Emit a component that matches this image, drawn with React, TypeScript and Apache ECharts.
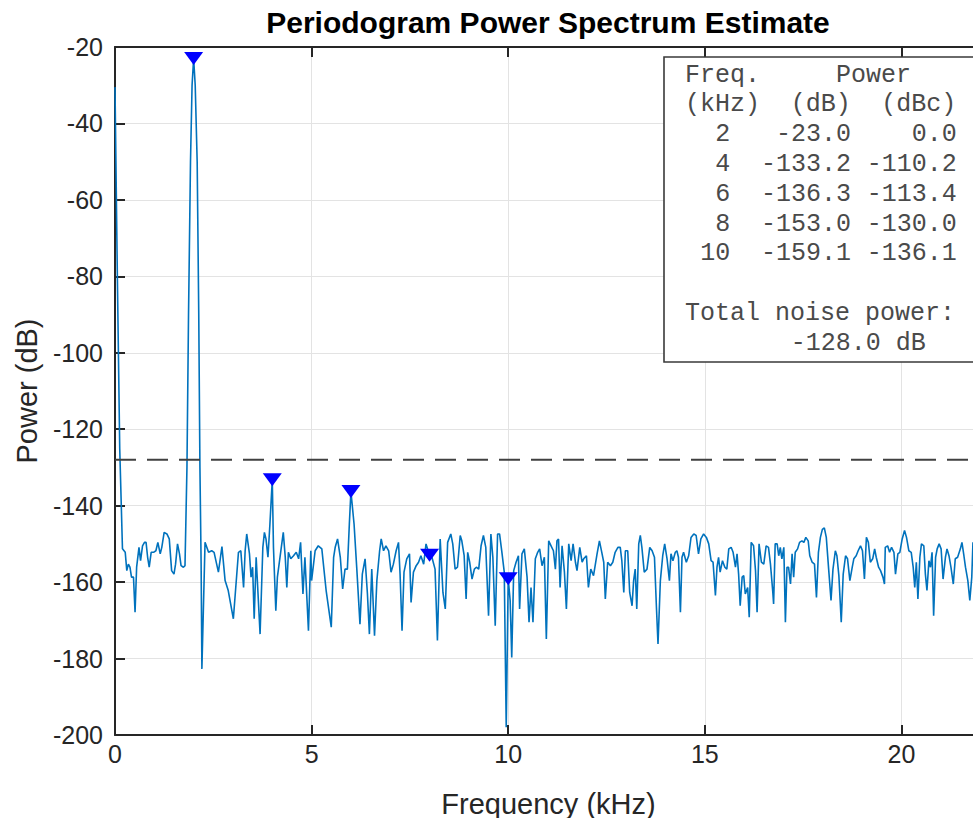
import React, { useEffect, useRef } from "react";
import * as echarts from "echarts";

// Periodogram estimate: [frequency (kHz), power (dB)]
const spectrum: [number, number][] = [
  [0, -30.5], [0.06, -80], [0.12, -125], [0.19, -151.3], [0.26, -152.2], [0.3, -157.0], [0.34, -155.3],
  [0.38, -156.1], [0.42, -158.7], [0.47, -158.7], [0.51, -167.9], [0.55, -156.1], [0.61, -150.9],
  [0.65, -154.4], [0.7, -150.5], [0.75, -149.6], [0.79, -149.6], [0.83, -153.5], [0.87, -156.1],
  [0.92, -152.2], [0.98, -152.2], [1.04, -151.8], [1.09, -149.6], [1.15, -152.6], [1.19, -150.9],
  [1.25, -147.0], [1.32, -147.4], [1.38, -148.7], [1.44, -157.0], [1.5, -157.9], [1.54, -155.3],
  [1.59, -150.0], [1.64, -152.6], [1.68, -155.7], [1.74, -156.1], [1.78, -155.7],
  [1.83, -130], [1.87, -90], [1.92, -50], [1.96, -30], [2.0, -23.0], [2.04, -30], [2.09, -50],
  [2.13, -90], [2.16, -130], [2.19, -155], [2.21, -182.7], [2.29, -149.6], [2.38, -152.2],
  [2.46, -151.8], [2.52, -152.2], [2.63, -157.4], [2.72, -150.7], [2.8, -159.6], [2.88, -162.2],
  [3.01, -169.6], [3.14, -152.2], [3.2, -151.8], [3.27, -161.4], [3.31, -151.8], [3.35, -147.4],
  [3.42, -152.6], [3.46, -158.7], [3.5, -156.1], [3.54, -169.6], [3.59, -153.5], [3.69, -173.6],
  [3.76, -150.9], [3.8, -147.0], [3.84, -148.7], [3.89, -153.5], [3.94, -144.8], [4.0, -133.2],
  [4.03, -150.9], [4.09, -167.5], [4.13, -158.7], [4.28, -147.0], [4.33, -153.5], [4.37, -161.4],
  [4.41, -152.2], [4.47, -153.9], [4.54, -153.1], [4.61, -152.2], [4.67, -153.9], [4.72, -149.6],
  [4.78, -163.1], [4.83, -153.5], [4.92, -172.7], [4.98, -151.8], [5.0, -159.6], [5.09, -151.8],
  [5.17, -150.5], [5.26, -151.3], [5.37, -162.2], [5.5, -171.8], [5.56, -153.5], [5.6, -150.9],
  [5.66, -148.7], [5.73, -153.5], [5.79, -161.8], [5.85, -156.6], [5.91, -156.6], [5.96, -144.8],
  [6.0, -136.3], [6.08, -144.8], [6.15, -156.6], [6.23, -171.0], [6.29, -157.9], [6.36, -153.9],
  [6.42, -163.1], [6.47, -173.6], [6.53, -156.6], [6.6, -174.0], [6.66, -159.6], [6.73, -151.8],
  [6.77, -148.7], [6.83, -151.8], [6.89, -150.5], [6.96, -151.8], [7.02, -157.4], [7.08, -155.3],
  [7.15, -151.8], [7.21, -149.6], [7.25, -157.9], [7.3, -172.7], [7.35, -157.4], [7.42, -153.9],
  [7.49, -152.6], [7.53, -165.3], [7.59, -157.4], [7.66, -155.7], [7.72, -154.8], [7.78, -153.1],
  [7.85, -155.3], [7.91, -150.0], [8.0, -153.0], [8.06, -153.5], [8.14, -156.6], [8.2, -175.3],
  [8.27, -148.7], [8.34, -162.7], [8.4, -167.0], [8.46, -149.6], [8.54, -147.4], [8.59, -150.0],
  [8.65, -156.6], [8.71, -156.1], [8.78, -147.8], [8.82, -149.2], [8.88, -153.1], [8.93, -164.4],
  [8.97, -152.2], [9.02, -154.8], [9.08, -159.2], [9.14, -156.6], [9.19, -156.1], [9.25, -156.6],
  [9.31, -150.5], [9.37, -147.8], [9.43, -150.9], [9.5, -168.8], [9.56, -147.4], [9.61, -153.5],
  [9.67, -171.4], [9.73, -147.4], [9.78, -147.4], [9.84, -152.2], [9.9, -157.4], [9.95, -198.0],
  [10.0, -159.1], [10.05, -164.8], [10.09, -179.7], [10.14, -157.0], [10.2, -154.8], [10.26, -153.1],
  [10.29, -167.0], [10.35, -152.6], [10.41, -151.3], [10.48, -158.7], [10.53, -170.5], [10.58, -161.4],
  [10.63, -170.5], [10.69, -153.9], [10.75, -152.2], [10.8, -151.3], [10.86, -155.7], [10.92, -153.5],
  [10.97, -174.9], [11.03, -149.2], [11.09, -150.5], [11.15, -151.8], [11.2, -156.6], [11.24, -149.2],
  [11.28, -148.7], [11.32, -161.4], [11.37, -150.5], [11.43, -157.4], [11.48, -167.0], [11.54, -150.0],
  [11.6, -154.4], [11.65, -150.0], [11.71, -154.8], [11.75, -157.0], [11.82, -150.9], [11.88, -154.8],
  [11.92, -153.9], [11.99, -153.1], [12.04, -161.4], [12.1, -156.6], [12.17, -158.3], [12.26, -152.6],
  [12.32, -149.2], [12.38, -152.2], [12.43, -154.8], [12.47, -164.4], [12.53, -154.8], [12.6, -155.7],
  [12.66, -154.8], [12.72, -152.2], [12.79, -150.9], [12.85, -150.9], [12.89, -154.4], [12.94, -162.7],
  [12.98, -151.8], [13.04, -151.8], [13.09, -162.7], [13.15, -166.2], [13.19, -159.6], [13.23, -156.6],
  [13.27, -167.0], [13.32, -150.0], [13.36, -147.8], [13.4, -150.9], [13.46, -157.4], [13.53, -156.6],
  [13.6, -150.9], [13.66, -151.8], [13.72, -153.5], [13.77, -166.6], [13.81, -176.2], [13.87, -159.6],
  [13.93, -153.1], [13.98, -150.0], [14.04, -153.9], [14.1, -159.6], [14.14, -152.6], [14.19, -154.4],
  [14.25, -152.2], [14.29, -151.8], [14.33, -153.5], [14.38, -167.9], [14.42, -153.5], [14.46, -152.2],
  [14.53, -154.8], [14.59, -153.1], [14.65, -148.3], [14.72, -147.4], [14.78, -147.8], [14.84, -152.6],
  [14.9, -148.7], [14.97, -147.4], [15.04, -148.3], [15.1, -150.0], [15.16, -154.4], [15.21, -154.8],
  [15.27, -163.5], [15.31, -156.1], [15.35, -153.5], [15.39, -157.4], [15.45, -154.4], [15.51, -156.1],
  [15.56, -156.6], [15.61, -151.3], [15.67, -150.9], [15.72, -152.2], [15.78, -156.1], [15.82, -152.6],
  [15.86, -157.9], [15.9, -166.2], [15.95, -158.7], [15.99, -158.3], [16.03, -163.1], [16.09, -161.4],
  [16.13, -169.2], [16.18, -149.6], [16.24, -150.5], [16.29, -157.0], [16.33, -167.9], [16.38, -150.0],
  [16.44, -154.8], [16.5, -155.3], [16.56, -150.5], [16.62, -150.9], [16.67, -155.3], [16.73, -162.7],
  [16.75, -165.7], [16.79, -150.0], [16.84, -150.0], [16.88, -153.1], [16.92, -150.9], [16.96, -153.9],
  [17.01, -150.9], [17.05, -170.5], [17.09, -156.1], [17.13, -156.1], [17.18, -160.5], [17.22, -152.6],
  [17.26, -158.7], [17.3, -152.2], [17.36, -151.3], [17.41, -149.6], [17.47, -149.2], [17.52, -149.6],
  [17.57, -148.3], [17.63, -149.2], [17.67, -153.1], [17.73, -154.8], [17.79, -155.3], [17.84, -164.0],
  [17.89, -152.2], [17.94, -148.3], [17.99, -146.2], [18.04, -145.8], [18.09, -148.3], [18.15, -156.6],
  [18.21, -164.8], [18.26, -156.6], [18.32, -151.8], [18.36, -153.1], [18.41, -158.3], [18.47, -170.5],
  [18.52, -157.9], [18.58, -153.1], [18.63, -153.9], [18.69, -159.6], [18.75, -156.1], [18.79, -153.9],
  [18.85, -153.1], [18.9, -151.8], [18.96, -150.5], [19.01, -151.8], [19.06, -159.2], [19.11, -148.3],
  [19.16, -149.6], [19.21, -154.8], [19.27, -153.9], [19.32, -151.3], [19.36, -153.5], [19.42, -156.1],
  [19.47, -157.0], [19.53, -158.7], [19.57, -160.5], [19.59, -150.9], [19.65, -150.5], [19.7, -152.2],
  [19.75, -150.9], [19.81, -152.2], [19.85, -157.9], [19.91, -152.6], [19.96, -152.2], [20.02, -148.7],
  [20.08, -146.5], [20.13, -148.3], [20.19, -151.8], [20.25, -152.2], [20.3, -156.1], [20.34, -161.4],
  [20.38, -154.8], [20.42, -164.4], [20.47, -153.5], [20.51, -150.0], [20.57, -150.5], [20.61, -157.9],
  [20.65, -162.2], [20.7, -154.4], [20.74, -156.1], [20.78, -152.2], [20.82, -168.8], [20.87, -153.5],
  [20.91, -151.3], [20.96, -150.0], [21.01, -151.3], [21.06, -159.2], [21.12, -153.5], [21.16, -151.3],
  [21.21, -153.1], [21.26, -156.1], [21.32, -160.5], [21.37, -153.9], [21.43, -153.5], [21.5, -151.3],
  [21.54, -149.6], [21.59, -153.1], [21.63, -156.1], [21.69, -159.6], [21.74, -164.8], [21.79, -158.7],
  [21.82, -149.6], [21.9, -152.0], [21.97, -157.0], [22.05, -151.0],
];

// Harmonic markers and the table
const peakFreqKHz = [2, 4, 6, 8, 10];
const peakPowerDb = [-23.0, -133.2, -136.3, -153.0, -159.1];
const peakPowerDbc = [0.0, -110.2, -113.4, -130.0, -136.1];
const totalNoisePowerDb = -128.0;

// Axes
const xMin = 0;
const xMax = 22.05;
const xStep = 5;
const yMin = -200;
const yMax = -20;
const yStep = 20;

const SANS = '"Liberation Sans", Arial, Helvetica, sans-serif';
const MONO = '"Courier New", "Liberation Mono", monospace';
const AXIS = "#262626";

function tableGraphics(): any[] {
  const fs = 25;
  const cw = 15.1; // monospaced char width
  const x0 = 685;
  const rowY = (i: number) => 75 + i * 29.8;
  const txt = (s: string, x: number, y: number, align: string) => ({
    type: "text",
    x,
    y,
    z: 101,
    style: {
      text: s,
      fontSize: fs,
      fontFamily: MONO,
      fill: "#4a4a4a",
      align,
      textAlign: align,
      verticalAlign: "middle",
      textVerticalAlign: "middle",
    },
  });
  const out: any[] = [
    {
      type: "rect",
      z: 100,
      shape: { x: 664, y: 57, width: 330, height: 305 },
      style: { fill: "#ffffff", stroke: "#3a3a3a", lineWidth: 1.6 },
    },
    txt("Freq.", x0, rowY(0), "left"),
    txt("Power", x0 + 10 * cw, rowY(0), "left"),
    txt("(kHz)", x0, rowY(1), "left"),
    txt("(dB)", x0 + 7 * cw, rowY(1), "left"),
    txt("(dBc)", x0 + 13 * cw, rowY(1), "left"),
  ];
  peakFreqKHz.forEach((f, i) => {
    const y = rowY(2 + i);
    out.push(txt(String(f), x0 + 3 * cw, y, "right"));
    out.push(txt(peakPowerDb[i].toFixed(1), x0 + 11 * cw, y, "right"));
    out.push(txt(peakPowerDbc[i].toFixed(1), x0 + 18 * cw, y, "right"));
  });
  out.push(txt("Total noise power:", x0, rowY(8), "left"));
  out.push(txt(totalNoisePowerDb.toFixed(1) + " dB", x0 + 7 * cw, rowY(9), "left"));
  return out;
}

export default function App() {
  const ref = useRef<HTMLDivElement>(null);

  useEffect(() => {
    if (!ref.current) return;
    const chart = echarts.init(ref.current, undefined, { renderer: "svg" });
    const option: any = {
      animation: false,
      backgroundColor: "#ffffff",
      grid: {
        left: 115,
        top: 47,
        width: 867,
        bottom: 83,
        containLabel: false,
        outerBoundsMode: "none",
      },
      xAxis: [
        {
          type: "value",
          min: xMin,
          max: xMax,
          interval: xStep,
          position: "bottom",
          name: "Frequency (kHz)",
          nameLocation: "middle",
          nameGap: 54,
          nameTextStyle: { fontFamily: SANS, fontSize: 29, color: AXIS },
          axisLine: { show: true, onZero: false, lineStyle: { color: AXIS, width: 2 } },
          axisTick: { show: true, inside: true, length: 10, lineStyle: { color: AXIS, width: 2 } },
          axisLabel: {
            fontFamily: SANS,
            fontSize: 25,
            color: AXIS,
            margin: 6,
            showMaxLabel: false,
          },
          splitLine: { show: true, lineStyle: { color: "#e3e3e3", width: 1 } },
        },
        {
          type: "value",
          min: xMin,
          max: xMax,
          interval: xStep,
          position: "top",
          axisLine: { show: true, onZero: false, lineStyle: { color: AXIS, width: 2 } },
          axisTick: { show: true, inside: true, length: 10, lineStyle: { color: AXIS, width: 2 } },
          axisLabel: { show: false },
          splitLine: { show: false },
        },
      ],
      yAxis: {
        type: "value",
        min: yMin,
        max: yMax,
        interval: yStep,
        name: "Power (dB)",
        nameLocation: "middle",
        nameRotate: 90,
        nameGap: 74,
        nameTextStyle: { fontFamily: SANS, fontSize: 29, color: AXIS },
        axisLine: { show: true, onZero: false, lineStyle: { color: AXIS, width: 2 } },
        axisTick: { show: true, inside: true, length: 10, lineStyle: { color: AXIS, width: 2 } },
        axisLabel: { fontFamily: SANS, fontSize: 25, color: AXIS, margin: 12 },
        splitLine: { show: true, lineStyle: { color: "#e3e3e3", width: 1 } },
      },
      series: [
        {
          type: "line",
          data: spectrum,
          showSymbol: false,
          symbol: "none",
          lineStyle: { color: "#0072BD", width: 1.6 },
          z: 3,
        },
        {
          type: "line",
          data: [
            [xMin, totalNoisePowerDb],
            [xMax, totalNoisePowerDb],
          ],
          showSymbol: false,
          symbol: "none",
          lineStyle: { color: "#404040", width: 2, type: [21, 11] },
          z: 4,
        },
        {
          type: "scatter",
          data: peakFreqKHz.map((f, i) => [f, peakPowerDb[i]]),
          symbol: "triangle",
          symbolRotate: 180,
          symbolSize: [19, 13],
          itemStyle: { color: "#0000ff", opacity: 1 },
          z: 5,
        },
      ],
      graphic: [
        {
          type: "text",
          x: 548,
          y: 22,
          z: 102,
          style: {
            text: "Periodogram Power Spectrum Estimate",
            fontFamily: SANS,
            fontSize: 30,
            fontWeight: "bold",
            fill: "#000000",
            align: "center",
            textAlign: "center",
            verticalAlign: "middle",
            textVerticalAlign: "middle",
          },
        },
        ...tableGraphics(),
      ],
    };
    chart.setOption(option);
    return () => chart.dispose();
  }, []);

  return (
    <div
      ref={ref}
      style={{ position: "absolute", left: 0, top: 0, width: 973, height: 818 }}
    />
  );
}
